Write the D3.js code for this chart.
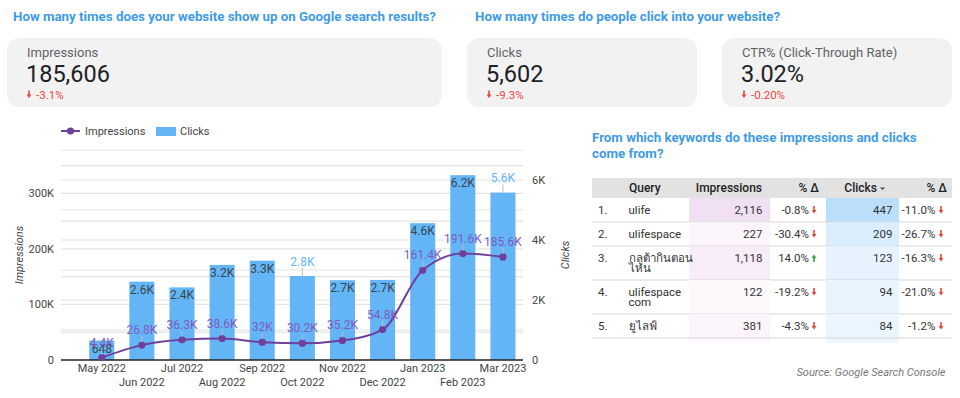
<!DOCTYPE html>
<html>
<head>
<meta charset="utf-8">
<script src="https://cdn.jsdelivr.net/npm/d3@7/dist/d3.min.js"></script>
<style>
  body { margin: 0; background: #fff; }
  svg { font-family: Roboto, "Noto Sans", sans-serif; display: block; }
</style>
</head>
<body>
<svg id="page" width="960" height="398"></svg>
<script>
// ---- data ----
const months = ["May 2022", "Jun 2022", "Jul 2022", "Aug 2022", "Sep 2022", "Oct 2022",
  "Nov 2022", "Dec 2022", "Jan 2023", "Feb 2023", "Mar 2023"];
const impressions = [4400, 26800, 36300, 38600, 32000, 30200, 35200, 54800, 161400, 191600, 185600];
const clicks = [648, 2610, 2420, 3170, 3310, 2800, 2660, 2670, 4560, 6160, 5580];
// bars whose label sits above the bar
const outsideLabels = ["Oct 2022", "Mar 2023"];

const leftTicks = [0, 100000, 200000, 300000];
const rightTicks = [0, 2000, 4000, 6000];

const kpiLabels = ["Impressions", "Clicks", "CTR% (Click-Through Rate)"];
const kpiValues = ["185,606", "5,602", "3.02%"];
const kpiDeltas = ["-3.1%", "-9.3%", "-0.20%"];

const queries = ["ulife", "ulifespace", "กลูต้ากินตอนไหน", "ulifespace com", "ยูไลฟ์"];
const qImpressions = [2116, 227, 1118, 122, 381];
const qImpDelta = [-0.8, -30.4, 14.0, -19.2, -4.3];
const qClicks = [447, 209, 123, 94, 84];
const qClickDelta = [-11.0, -26.7, -16.3, -21.0, -1.2];

// ---- page ----
const svg = d3.select("#page");
const blue = "#3f9be6";
const red = "#e8453c", green = "#2e9e4f";

function arrow(g, x, y, up, col) {
  // small arrow glyph used next to deltas
  const p = up
    ? "M-0.8,4 v-4 h-1.6 l2.4,-3.6 l2.4,3.6 h-1.6 v4 z"
    : "M-0.8,-4 v4 h-1.6 l2.4,3.6 l2.4,-3.6 h-1.6 v-4 z";
  g.append("path").attr("d", p).attr("transform", `translate(${x},${y})`).attr("fill", col);
}

// section titles
svg.append("text").attr("x", 13).attr("y", 21).attr("fill", blue)
  .style("font-size", "13.3px").style("font-weight", 700)
  .text("How many times does your website show up on Google search results?");
svg.append("text").attr("x", 475).attr("y", 21).attr("fill", blue)
  .style("font-size", "13.3px").style("font-weight", 700)
  .text("How many times do people click into your website?");

// kpi cards
const cards = [[7, 435], [467, 230], [722, 230]];
cards.forEach((c, i) => {
  const g = svg.append("g").attr("transform", `translate(${c[0]},38)`);
  g.append("rect").attr("width", c[1]).attr("height", 69).attr("rx", 12).attr("fill", "#f2f2f2");
  g.append("text").attr("x", 20).attr("y", 57 - 38).attr("fill", "#5f6368")
    .style("font-size", "13px").text(kpiLabels[i]);
  g.append("text").attr("x", 19).attr("y", 82 - 38).attr("fill", "#202124")
    .style("font-size", "23.5px").text(kpiValues[i]);
  arrow(g, 22, 94.5 - 38, false, red);
  g.append("text").attr("x", 29).attr("y", 98.5 - 38).attr("fill", red)
    .style("font-size", "11.5px").text(kpiDeltas[i]);
});

// ---- combo chart ----
const x = d3.scaleBand().domain(months).range([81.7, 523]).paddingInner(0.376).paddingOuter(0.188);
const yL = d3.scaleLinear().domain([0, 378000]).range([360, 150]);
const yR = d3.scaleLinear().domain([0, 7000]).range([360, 150]);
const cx = d => x(d) + x.bandwidth() / 2;
const kfmt = v => v >= 1000 ? +(v / 1000).toFixed(1) + "K" : String(v);

const chart = svg.append("g");

// grid lines (both axes)
const grid = chart.append("g").attr("stroke", "#e3e3e3").attr("stroke-width", 1.2);
d3.range(1000, 7001, 1000).forEach(v => {
  grid.append("line").attr("x1", 61).attr("x2", 523).attr("y1", yR(v)).attr("y2", yR(v));
});
d3.range(50000, 378000, 50000).forEach(v => {
  grid.append("line").attr("x1", 61).attr("x2", 523).attr("y1", yL(v)).attr("y2", yL(v));
});

// axes
const axL = chart.append("g").attr("transform", "translate(58,0)")
  .call(d3.axisLeft(yL).tickValues(leftTicks).tickSize(0).tickFormat(d => d ? d / 1000 + "K" : "0"));
const axR = chart.append("g").attr("transform", "translate(530,0)")
  .call(d3.axisRight(yR).tickValues(rightTicks).tickSize(0).tickFormat(d => d ? d / 1000 + "K" : "0"));
[axL, axR].forEach(a => {
  a.select(".domain").remove();
  a.selectAll("text").attr("fill", "#444").style("font-size", "11px").style("font-family", "Roboto");
});
axL.selectAll("text").attr("x", -4);
axR.selectAll("text").attr("x", 2);

const axX = chart.append("g").attr("transform", "translate(0,360)")
  .call(d3.axisBottom(x).tickSize(0));
axX.select(".domain").remove();
axX.selectAll("text").attr("fill", "#444").style("font-size", "11px").style("font-family", "Roboto")
  .attr("y", (d, i) => i % 2 ? 25.5 : 11.5).attr("dy", 0);

chart.append("text").attr("transform", "translate(23,255) rotate(-90)").attr("text-anchor", "middle")
  .attr("fill", "#444").style("font-size", "11px").style("font-style", "italic").text("Impressions");
chart.append("text").attr("transform", "translate(569,255) rotate(-90)").attr("text-anchor", "middle")
  .attr("fill", "#444").style("font-size", "11px").style("font-style", "italic").text("Clicks");

// bars
const barCol = "#64b5f6";
chart.append("g").selectAll("rect").data(months).join("rect")
  .attr("x", d => x(d)).attr("width", x.bandwidth())
  .attr("y", (d, i) => yR(clicks[i])).attr("height", (d, i) => 360 - yR(clicks[i]))
  .attr("fill", barCol);

// baseline
chart.append("line").attr("x1", 61).attr("x2", 523).attr("y1", 360).attr("y2", 360)
  .attr("stroke", "#222").attr("stroke-width", 1.5);

// bar labels
const bl = chart.append("g").style("font-size", "12px").attr("text-anchor", "middle");
months.forEach((m, i) => {
  const top = yR(clicks[i]);
  if (outsideLabels.includes(m)) {
    bl.append("line").attr("x1", cx(m)).attr("x2", cx(m)).attr("y1", top).attr("y2", top - 8)
      .attr("stroke", "#bdbdbd");
    bl.append("text").attr("x", cx(m)).attr("y", top - 10.5).attr("fill", barCol).text(kfmt(clicks[i]));
  } else {
    bl.append("text").attr("x", cx(m)).attr("y", top + 12).attr("fill", "#37474f").text(kfmt(clicks[i]));
  }
});

// impressions line
const lineCol = "#6f3f9c";
chart.append("path").datum(months)
  .attr("d", d3.line().x(d => cx(d)).y((d, i) => yL(impressions[i])).curve(d3.curveMonotoneX))
  .attr("fill", "none").attr("stroke", lineCol).attr("stroke-width", 2);
chart.append("g").selectAll("circle").data(months).join("circle")
  .attr("cx", d => cx(d)).attr("cy", (d, i) => yL(impressions[i])).attr("r", 3.6).attr("fill", lineCol);

const ll = chart.append("g").style("font-size", "12px").attr("text-anchor", "middle");
months.forEach((m, i) => {
  const py = yL(impressions[i]);
  ll.append("line").attr("x1", cx(m)).attr("x2", cx(m)).attr("y1", py - 3).attr("y2", py - 9)
    .attr("stroke", "#bdbdbd");
  ll.append("text").attr("x", cx(m)).attr("y", py - 11).attr("fill", "#7e5cbf").text(kfmt(impressions[i]));
});

// legend
const lg = svg.append("g");
lg.append("line").attr("x1", 61).attr("x2", 80).attr("y1", 131).attr("y2", 131)
  .attr("stroke", lineCol).attr("stroke-width", 2);
lg.append("circle").attr("cx", 70.5).attr("cy", 131).attr("r", 3.6).attr("fill", lineCol);
lg.append("text").attr("x", 85).attr("y", 135).attr("fill", "#444").style("font-size", "11px").text("Impressions");
lg.append("rect").attr("x", 156).attr("y", 127).attr("width", 20).attr("height", 9).attr("fill", barCol);
lg.append("text").attr("x", 180).attr("y", 135).attr("fill", "#444").style("font-size", "11px").text("Clicks");

// ---- table ----
svg.append("text").attr("x", 592).attr("y", 142).attr("fill", blue)
  .style("font-size", "13.3px").style("font-weight", 700)
  .text("From which keywords do these impressions and clicks");
svg.append("text").attr("x", 592).attr("y", 158).attr("fill", blue)
  .style("font-size", "13.3px").style("font-weight", 700).text("come from?");

const tbl = svg.append("g");
const tx0 = 592, tx1 = 952;
const impCol = [689, 770], clkCol = [826, 899];

// wrap query text into lines of limited width
const measure = svg.append("text").style("font-size", "11.5px").attr("visibility", "hidden");
function wrap(s, w) {
  let words;
  if (typeof Intl !== "undefined" && Intl.Segmenter) {
    words = Array.from(new Intl.Segmenter("th", { granularity: "word" }).segment(s), t => t.segment);
  } else {
    words = s.split(/(\s)/);
  }
  const lines = [];
  let cur = "";
  words.forEach(wd => {
    const test = cur + wd;
    measure.text(test.trim());
    if (cur.trim() && measure.node().getComputedTextLength() > w) {
      lines.push(cur.trim());
      cur = wd.trim() ? wd : "";
    } else cur = test;
  });
  if (cur.trim()) lines.push(cur.trim());
  return lines;
}
const qLines = queries.map(q => wrap(q, 66));
measure.remove();

const rowTops = [];
let yy = 198;
qLines.forEach(l => { rowTops.push(yy); yy += l.length > 1 ? 34 : 24; });
const tableBottom = yy;

const impColor = d3.scaleLinear().domain([0, d3.max(qImpressions)]).range(["#fdf9fd", "#f1e0f4"]);
const clkColor = d3.scaleLinear().domain([d3.min(qClicks), d3.max(qClicks)]).range(["#ebf5fe", "#bbdefb"]);

// column backgrounds extend a little past the last row
tbl.append("rect").attr("x", impCol[0]).attr("y", 198).attr("width", impCol[1] - impCol[0])
  .attr("height", tableBottom + 5 - 198).attr("fill", "#fcf8fd");
tbl.append("rect").attr("x", clkCol[0]).attr("y", 198).attr("width", clkCol[1] - clkCol[0])
  .attr("height", tableBottom + 5 - 198).attr("fill", "#eef6fe");

// header
tbl.append("rect").attr("x", tx0).attr("y", 178).attr("width", tx1 - tx0).attr("height", 20).attr("fill", "#e2e2e2");
const hd = tbl.append("g").attr("fill", "#222").style("font-size", "12px").style("font-weight", 500);
hd.append("text").attr("x", 629).attr("y", 192).text("Query");
hd.append("text").attr("x", 762).attr("y", 192).attr("text-anchor", "end").text("Impressions");
hd.append("text").attr("x", 819).attr("y", 192).attr("text-anchor", "end").text("% Δ");
hd.append("text").attr("x", 877).attr("y", 192).attr("text-anchor", "end").text("Clicks");
hd.append("path").attr("d", "M880,187.5 h5 l-2.5,2.5 z").attr("fill", "#444");
hd.append("text").attr("x", 947).attr("y", 192).attr("text-anchor", "end").text("% Δ");

const pct = v => v.toFixed(1) + "%";
qLines.forEach((lines, i) => {
  const top = rowTops[i], h = lines.length > 1 ? 34 : 24;
  const base = top + 15.5;
  tbl.append("rect").attr("x", impCol[0]).attr("y", top).attr("width", impCol[1] - impCol[0]).attr("height", h)
    .attr("fill", impColor(qImpressions[i]));
  tbl.append("rect").attr("x", clkCol[0]).attr("y", top).attr("width", clkCol[1] - clkCol[0]).attr("height", h)
    .attr("fill", clkColor(qClicks[i]));
  tbl.append("line").attr("x1", tx0).attr("x2", tx1).attr("y1", top + h).attr("y2", top + h)
    .attr("stroke", "#d6d6d6").attr("stroke-width", 1.2);

  const r = tbl.append("g").attr("fill", "#333").style("font-size", "11.5px");
  r.append("text").attr("x", 598).attr("y", base).text((i + 1) + ".");
  const q = r.append("text").attr("x", 628.5).attr("y", base);
  lines.forEach((l, k) => q.append("tspan").attr("x", 628.5).attr("y", base + k * 10.5).text(l));
  r.append("text").attr("x", 762.5).attr("y", base).attr("text-anchor", "end").text(d3.format(",")(qImpressions[i]));
  r.append("text").attr("x", 809).attr("y", base).attr("text-anchor", "end").text(pct(qImpDelta[i]));
  arrow(r, 814, base - 3.5, qImpDelta[i] > 0, qImpDelta[i] > 0 ? green : red);
  r.append("text").attr("x", 892.5).attr("y", base).attr("text-anchor", "end").text(qClicks[i]);
  r.append("text").attr("x", 935.5).attr("y", base).attr("text-anchor", "end").text(pct(qClickDelta[i]));
  arrow(r, 941, base - 3.5, qClickDelta[i] > 0, qClickDelta[i] > 0 ? green : red);
});

svg.append("text").attr("x", 945.5).attr("y", 376).attr("text-anchor", "end").attr("fill", "#777")
  .style("font-size", "11px").style("font-style", "italic").text("Source: Google Search Console");
</script>
</body>
</html>
